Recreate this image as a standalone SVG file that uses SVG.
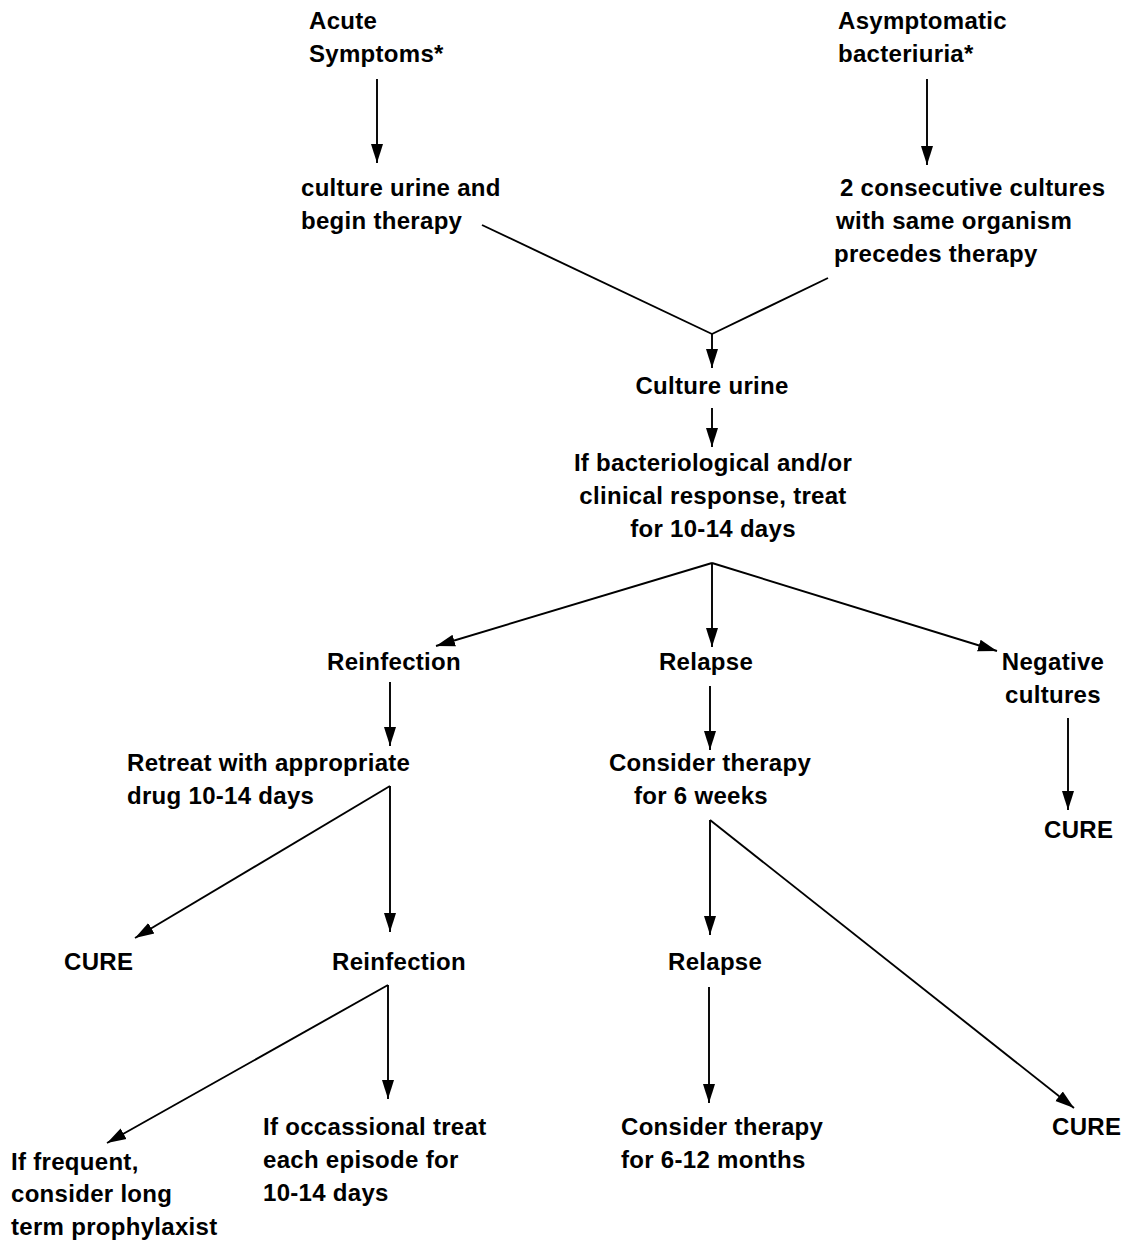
<svg xmlns="http://www.w3.org/2000/svg" width="1137" height="1241" viewBox="0 0 1137 1241">
<style>
text{font-family:"Liberation Sans",Arial,sans-serif;font-weight:bold;font-size:24px;fill:#000;letter-spacing:0.3px}
.c{text-anchor:middle}
.ln{stroke:#000;stroke-width:1.9;fill:none}
.ar{stroke:#000;stroke-width:1.9;fill:none;marker-end:url(#ah)}
</style>
<defs>
<marker id="ah" markerUnits="userSpaceOnUse" markerWidth="20" markerHeight="14" viewBox="0 0 20 14" refX="19" refY="7" orient="auto">
<path d="M0,1 L19,7 L0,13 Z" fill="#000"/>
</marker>
</defs>
<rect width="1137" height="1241" fill="#fff"/>
<g id="connectors">
<line class="ar" x1="377" y1="79" x2="377" y2="163"/>
<line class="ar" x1="927" y1="79" x2="927" y2="165"/>
<line class="ln" x1="482" y1="225" x2="712" y2="334"/>
<line class="ln" x1="828" y1="278" x2="712" y2="334"/>
<line class="ar" x1="712" y1="334" x2="712" y2="368"/>
<line class="ar" x1="712" y1="408" x2="712" y2="447"/>
<line class="ar" x1="712" y1="563" x2="712" y2="647"/>
<line class="ar" x1="712" y1="563" x2="436" y2="646"/>
<line class="ar" x1="712" y1="563" x2="997" y2="651"/>
<line class="ar" x1="390" y1="682" x2="390" y2="746"/>
<line class="ar" x1="710" y1="686" x2="710" y2="750"/>
<line class="ar" x1="1068" y1="718" x2="1068" y2="810"/>
<line class="ar" x1="390" y1="786" x2="135" y2="938"/>
<line class="ar" x1="390" y1="786" x2="390" y2="932"/>
<line class="ar" x1="710" y1="820" x2="710" y2="935"/>
<line class="ar" x1="710" y1="820" x2="1074" y2="1108"/>
<line class="ar" x1="388" y1="985" x2="107" y2="1143"/>
<line class="ar" x1="388" y1="985" x2="388" y2="1099"/>
<line class="ar" x1="709" y1="987" x2="709" y2="1103"/>
</g>
<g id="acute"><text x="309" y="29">Acute</text><text x="309" y="62">Symptoms*</text></g>
<g id="asymptomatic"><text x="838" y="29">Asymptomatic</text><text x="838" y="62">bacteriuria*</text></g>
<g id="culture-begin"><text x="301" y="196">culture urine and</text><text x="301" y="229">begin therapy</text></g>
<g id="two-cultures"><text x="840" y="196">2 consecutive cultures</text><text x="836" y="229">with same organism</text><text x="834" y="262">precedes therapy</text></g>
<g id="culture-urine"><text class="c" x="712" y="394">Culture urine</text></g>
<g id="if-bact"><text class="c" x="713" y="471">If bacteriological and/or</text><text class="c" x="713" y="504">clinical response, treat</text><text class="c" x="713" y="537">for 10-14 days</text></g>
<g id="reinfection1"><text class="c" x="394" y="670">Reinfection</text></g>
<g id="relapse1"><text class="c" x="706" y="670">Relapse</text></g>
<g id="negative"><text class="c" x="1053" y="670">Negative</text><text class="c" x="1053" y="703">cultures</text></g>
<g id="retreat"><text x="127" y="771">Retreat with appropriate</text><text x="127" y="804">drug 10-14 days</text></g>
<g id="consider6w"><text class="c" x="710" y="771">Consider therapy</text><text class="c" x="701" y="804">for 6 weeks</text></g>
<g id="cure-neg"><text x="1044" y="838">CURE</text></g>
<g id="cure-left"><text x="64" y="970">CURE</text></g>
<g id="reinfection2"><text x="332" y="970">Reinfection</text></g>
<g id="relapse2"><text x="668" y="970">Relapse</text></g>
<g id="frequent"><text x="11" y="1170">If frequent,</text><text x="11" y="1202">consider long</text><text x="11" y="1235">term prophylaxist</text></g>
<g id="occasional"><text x="263" y="1135">If occassional treat</text><text x="263" y="1168">each episode for</text><text x="263" y="1201">10-14 days</text></g>
<g id="consider612"><text x="621" y="1135">Consider therapy</text><text x="621" y="1168">for 6-12 months</text></g>
<g id="cure-right"><text x="1052" y="1135">CURE</text></g>
</svg>
